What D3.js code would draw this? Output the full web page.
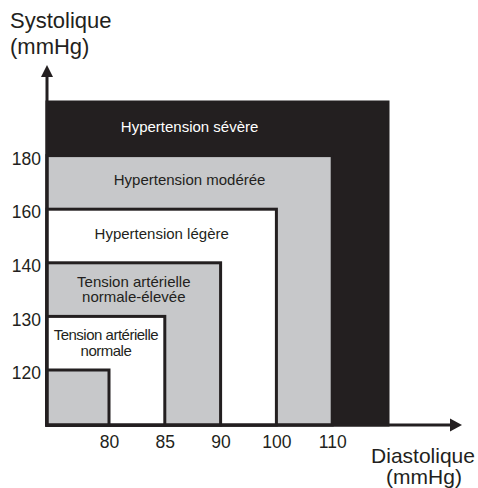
<!DOCTYPE html>
<html>
<head>
<meta charset="utf-8">
<script src="https://cdn.jsdelivr.net/npm/d3@7"></script>
<style>
  body { margin: 0; background: #fff; }
  svg text { font-family: "Liberation Sans", Arial, sans-serif; fill: #231f20; }
</style>
</head>
<body>
<script>
// zones, innermost first: upper diastolic / systolic limit of each
const zoneNames = ["optimale", "normale", "normale-élevée", "légère", "modérée", "sévère"];
const diaLimits = [80, 85, 90, 100, 110, "max"];
const sysLimits = [120, 130, 140, 160, 180, "max"];
const zoneLabels = [
  [],
  ["Tension artérielle", "normale"],
  ["Tension artérielle", "normale-élevée"],
  ["Hypertension légère"],
  ["Hypertension modérée"],
  ["Hypertension sévère"]
];
const diaTicks = [80, 85, 90, 100, 110];
const sysTicks = [120, 130, 140, 160, 180];

const W = 478, H = 488;
const x0 = 47, y0 = 425;   // axis origin
const ink = "#231f20";

const x = d3.scalePoint().domain(diaLimits).range([109, 388]);
const y = d3.scalePoint().domain(sysLimits).range([370, 102]);
const fill = d3.scaleOrdinal()
  .domain(zoneNames)
  .range(["#c7c8ca", "#fff", "#c7c8ca", "#fff", "#c7c8ca", ink]);

const svg = d3.select("body").append("svg")
  .attr("width", W)
  .attr("height", H);

const zones = zoneNames.map((name, i) => ({
  name: name,
  i: i,
  dia: diaLimits[i],
  sys: sysLimits[i],
  lines: zoneLabels[i]
}));

// biggest zone first so the smaller ones sit on top
svg.append("g").selectAll("rect")
  .data(zones.slice().reverse())
  .join("rect")
    .attr("x", x0)
    .attr("y", d => y(d.sys))
    .attr("width", d => x(d.dia) - x0)
    .attr("height", d => y0 - y(d.sys))
    .attr("fill", d => fill(d.name))
    .attr("stroke", ink)
    .attr("stroke-width", 3);

// labels sit in the band between the zone top and the next zone down
const labels = svg.append("g")
  .attr("text-anchor", "middle")
  .style("font-size", "15px");

const lh = 15.5;
zones.filter(d => d.lines.length).forEach(d => {
  const bandTop = y(d.sys);
  const bandBot = y(sysLimits[d.i - 1]);
  const mid = (bandTop + bandBot) / 2;
  // the top zone label is centred like the one below it
  const cx = (x0 + x(diaLimits[Math.min(d.i, 4)])) / 2;
  const n = d.lines.length;
  const base = mid + (n === 1 ? 3 : 5) - (n - 1) * lh / 2;
  const t = labels.append("text")
    .style("fill", d.name === "sévère" ? "#fff" : ink)
    .style("letter-spacing", d.name === "normale" ? "-0.5px" : null);
  d.lines.forEach((line, k) => {
    t.append("tspan")
      .attr("x", cx)
      .attr("y", base + k * lh)
      .text(line);
  });
});

// axes: tick labels only, lines drawn by hand with arrows
const yAxis = svg.append("g")
  .attr("transform", `translate(${x0},0)`)
  .call(d3.axisLeft(y).tickValues(sysTicks).tickSize(0).tickPadding(6));
yAxis.select(".domain").remove();
yAxis.selectAll("text")
  .attr("dy", "0.5em")
  .style("font-size", "17.5px");

const xAxis = svg.append("g")
  .attr("transform", `translate(0,${y0})`)
  .call(d3.axisBottom(x).tickValues(diaTicks).tickSize(0).tickPadding(11));
xAxis.select(".domain").remove();
xAxis.selectAll("text")
  .style("font-size", "17.5px");
svg.selectAll("g").attr("font-family", null).attr("font-size", null);

svg.append("line")
  .attr("x1", x0).attr("y1", y0 + 1.5)
  .attr("x2", x0).attr("y2", 76)
  .attr("stroke", ink).attr("stroke-width", 3);
svg.append("path")
  .attr("d", `M${x0 - 6},77 L${x0},65 L${x0 + 6},77 Z`)
  .attr("fill", ink);

svg.append("line")
  .attr("x1", x0 - 1.5).attr("y1", y0)
  .attr("x2", 451).attr("y2", y0)
  .attr("stroke", ink).attr("stroke-width", 3);
svg.append("path")
  .attr("d", `M450,${y0 - 6.5} L462,${y0} L450,${y0 + 6.5} Z`)
  .attr("fill", ink);

// axis titles
const yTitle = svg.append("text")
  .style("font-size", "22px");
yTitle.append("tspan").attr("x", 10).attr("y", 28).text("Systolique");
yTitle.append("tspan").attr("x", 10).attr("y", 54).text("(mmHg)");

const xTitle = svg.append("text")
  .attr("text-anchor", "middle")
  .style("font-size", "21px");
xTitle.append("tspan").attr("x", 423).attr("y", 463).text("Diastolique");
xTitle.append("tspan").attr("x", 424).attr("y", 484).text("(mmHg)");
</script>
</body>
</html>
